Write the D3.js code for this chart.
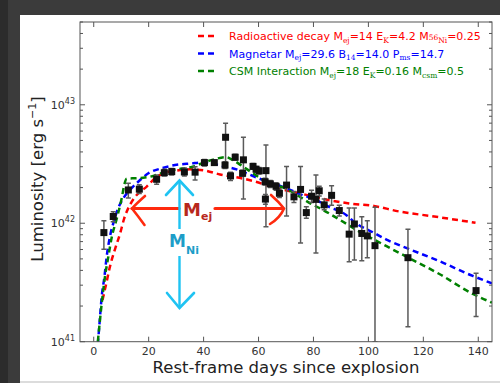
<!DOCTYPE html>
<html>
<head>
<meta charset="utf-8">
<script src="https://cdn.jsdelivr.net/npm/d3@7"></script>
<style>
  html, body { margin: 0; padding: 0; background: #3a3a3a; }
  svg { display: block; }
  text { font-family: "DejaVu Sans", sans-serif; }
</style>
</head>
<body>
<svg id="chart" width="500" height="383"></svg>
<script>
// Observed bolometric light curve, luminosity in units of 1e42 erg/s
const obsDays = [3.7, 7.1, 12.6, 16.6, 22.9, 25.7, 28.4, 33.0, 36.9, 40.3, 43.9, 48.0, 47.8, 49.8, 51.5,
  54.5, 54.2, 58.0, 59.1, 60.2, 62.7, 62.4, 62.5, 64.3, 66.4, 67.6, 70.2, 72.9, 75.3, 77.4, 79.3, 80.9,
  82.1, 83.9, 86.6, 89.4, 93.0, 94.9, 97.6, 99.6, 102.4, 114.4, 139.2];
const obsLum = [0.834, 1.14, 1.91, 1.94, 2.35, 2.67, 2.73, 2.71, 2.70, 3.25, 3.25, 5.32, 3.10, 2.51, 3.61,
  3.43, 2.64, 3.02, 2.86, 2.77, 2.78, 2.24, 1.60, 2.15, 2.05, 1.79, 2.10, 1.67, 1.93, 1.23, 1.69, 1.59,
  1.88, 1.43, 1.72, 1.28, 0.809, 0.986, 0.820, 0.782, 0.647, 0.512, 0.270];
const obsLo = [0.603, 1.03, 1.63, 1.78, 2.13, 2.50, 2.55, 2.50, 2.32, 3.05, 3.10, 3.21, 2.90, 2.30, 3.40,
  1.60, 2.50, 2.85, 2.70, 2.60, 0.935, 2.10, 1.45, 2.00, 1.90, 1.65, 1.15, 1.50, 0.68, 1.10, 1.50, 0.56,
  1.70, 1.30, 1.42, 1.15, 0.474, 0.490, 0.483, 0.512, 0.0, 0.134, 0.163];
const obsHi = [1.052, 1.25, 2.18, 2.11, 2.56, 2.85, 2.90, 2.92, 3.00, 3.45, 3.40, 6.98, 3.30, 2.70, 3.82,
  5.32, 2.80, 3.20, 3.02, 2.95, 4.58, 2.40, 1.75, 2.30, 2.20, 1.95, 3.01, 1.85, 3.01, 1.38, 1.90, 2.56,
  2.05, 1.60, 2.07, 1.42, 1.346, 1.346, 1.137, 1.052, 1.365, 0.889, 0.378];

// Model light curves (same units)
const radioDays = [3.2, 4.7, 5.9, 7.7, 9.6, 11.1, 13.2, 16.2, 19.3, 22.3, 25.3, 30, 35, 40, 46, 53, 59, 65,
  75, 85, 93, 102, 111, 124, 139];
const radioLum = [0.225, 0.32, 0.43, 0.60, 0.82, 1.10, 1.43, 1.79, 2.04, 2.40, 2.64, 2.78, 2.85, 2.80, 2.58,
  2.42, 2.24, 2.02, 1.79, 1.58, 1.47, 1.40, 1.26, 1.14, 1.01];

const magDays = [1.5, 2.3, 2.9, 3.9, 4.7, 5.9, 7.5, 8.9, 10.8, 13.2, 16.2, 19.9, 24.7, 29.6, 35.7, 39, 44,
  48, 52, 56, 59.5, 63, 66, 70, 76, 81, 85, 92, 95, 102, 107, 114, 126, 138, 145];
const magLum = [0.095, 0.163, 0.24, 0.354, 0.52, 0.77, 1.07, 1.34, 1.63, 1.91, 2.24, 2.64, 2.91, 3.10, 3.20,
  3.25, 3.15, 3.0, 2.85, 2.62, 2.42, 2.26, 2.15, 1.98, 1.73, 1.57, 1.40, 1.17, 1.02, 0.83, 0.72, 0.616,
  0.477, 0.359, 0.311];

const csmDays = [1.5, 2.9, 4.1, 5.3, 6.5, 8.4, 10.2, 11.2, 12.0, 15, 18, 22, 25, 29, 36, 41, 44, 48, 50.8,
  54.4, 58, 61.7, 66, 69.6, 74, 78.7, 83.6, 89.6, 95.7, 101.2, 106.6, 114, 126, 138, 145];
const csmLum = [0.1, 0.21, 0.354, 0.52, 0.75, 1.10, 1.63, 2.15, 2.38, 2.40, 2.42, 2.52, 2.67, 2.82, 3.0,
  3.31, 3.47, 3.62, 3.40, 3.0, 2.64, 2.32, 2.10, 1.98, 1.73, 1.48, 1.29, 1.07, 0.877, 0.746, 0.64, 0.52,
  0.371, 0.253, 0.214];

const xTicks = [0, 20, 40, 60, 80, 100, 120, 140];
const yTicks = [0.1, 1, 10];
const yTickExp = ["41", "42", "43"];

const colRed = "#ff0000", colBlue = "#0000ff", colGreen = "#008000";

const svg = d3.select("#chart");

// window frame and figure background
svg.append("rect").attr("x", 0).attr("y", 0).attr("width", 500).attr("height", 383).attr("fill", "#3b3b3b");
svg.append("rect").attr("x", 0).attr("y", 0).attr("width", 8).attr("height", 383).attr("fill", "#2c2c2c");
svg.append("rect").attr("x", 20).attr("y", 15).attr("width", 480).attr("height", 366).attr("fill", "#ffffff");
svg.append("rect").attr("x", 20).attr("y", 381).attr("width", 480).attr("height", 2).attr("fill", "#dcdcdc");

const L = 80, R = 492, T = 22, B = 341.7;
const x = d3.scaleLinear().domain([-5, 145]).range([L, R]);
const y = d3.scaleLog().domain([0.1, 50]).range([B, T]);

svg.append("clipPath").attr("id", "plotclip")
  .append("rect").attr("x", L).attr("y", T).attr("width", R - L).attr("height", B - T);

const plot = svg.append("g").attr("clip-path", "url(#plotclip)");

// model curves
const models = [
  { d: radioDays, v: radioLum, c: colRed },
  { d: magDays, v: magLum, c: colBlue },
  { d: csmDays, v: csmLum, c: colGreen }
];
const line = d3.line().x(p => x(p[0])).y(p => y(p[1])).curve(d3.curveMonotoneX);
models.forEach(m => {
  plot.append("path")
    .attr("d", line(m.d.map((dd, i) => [dd, m.v[i]])))
    .attr("fill", "none")
    .attr("stroke", m.c)
    .attr("stroke-width", 2.5)
    .attr("stroke-dasharray", "6,4");
});

// annotations: ejecta mass (horizontal) and nickel mass (vertical)
const ann = svg.append("g");
const red = "#ff2a0e", cyan = "#1fc3f2";
ann.append("path").attr("d", "M132,208.5 L179,208.5 M215,208.5 L283,208.5")
  .attr("stroke", red).attr("stroke-width", 3.2).attr("fill", "none").attr("stroke-linecap", "round");
ann.append("path").attr("d", "M145,196 Q137,203 132,208.5 Q138,216 144.5,225")
  .attr("stroke", red).attr("stroke-width", 2.6).attr("fill", "none").attr("stroke-linecap", "round");
ann.append("path").attr("d", "M271,195 Q279,202 284,208.5 Q280,218 270,224")
  .attr("stroke", red).attr("stroke-width", 2.6).attr("fill", "none").attr("stroke-linecap", "round");

ann.append("path").attr("d", "M179.5,181 L179.5,229 M179.5,256 L179.5,307")
  .attr("stroke", cyan).attr("stroke-width", 2.4).attr("fill", "none");
ann.append("path").attr("d", "M166,195 L179.5,180.5 L193,195 M167,293 L179.5,308 L194,293")
  .attr("stroke", cyan).attr("stroke-width", 2.6).attr("fill", "none").attr("stroke-linecap", "round");

const mej = ann.append("text").attr("x", 183).attr("y", 216).attr("fill", "#b8281c")
  .attr("font-weight", "bold").attr("font-size", 18);
mej.append("tspan").text("M");
mej.append("tspan").attr("font-size", 11).attr("dy", 4).text("ej");

const mni = ann.append("text").attr("x", 169).attr("y", 246.7).attr("fill", "#1d9dc8")
  .attr("font-weight", "bold").attr("font-size", 17);
mni.append("tspan").text("M");
mni.append("tspan").attr("font-size", 11).attr("dy", 7).text("Ni");

// data with error bars
const pts = obsDays.map((d, i) => ({ d, v: obsLum[i], lo: Math.max(obsLo[i], 0.1), hi: obsHi[i] }));
const eb = plot.append("g").attr("stroke", "#5a5a5a").attr("stroke-width", 1.5);
pts.forEach(p => {
  const cx = x(p.d);
  eb.append("line").attr("x1", cx).attr("x2", cx).attr("y1", y(p.lo)).attr("y2", y(p.hi));
  eb.append("line").attr("x1", cx - 2.5).attr("x2", cx + 2.5).attr("y1", y(p.lo)).attr("y2", y(p.lo));
  eb.append("line").attr("x1", cx - 2.5).attr("x2", cx + 2.5).attr("y1", y(p.hi)).attr("y2", y(p.hi));
});
plot.append("g").selectAll("rect").data(pts).join("rect")
  .attr("x", p => x(p.d) - 3.5).attr("y", p => y(p.v) - 3.5)
  .attr("width", 7).attr("height", 7).attr("fill", "#111");

// axes frame and ticks (inward, on all sides)
const axisCol = "#555";
svg.append("rect").attr("x", L).attr("y", T).attr("width", R - L).attr("height", B - T)
  .attr("fill", "none").attr("stroke", axisCol).attr("stroke-width", 1);

const tk = svg.append("g").attr("stroke", axisCol).attr("stroke-width", 1);
xTicks.forEach(t => {
  const px = x(t);
  tk.append("line").attr("x1", px).attr("x2", px).attr("y1", B).attr("y2", B - 5);
  tk.append("line").attr("x1", px).attr("x2", px).attr("y1", T).attr("y2", T + 5);
});
const minor = [];
[0.1, 1, 10].forEach(base => { for (let k = 2; k <= 9; k++) { const v = base * k; if (v <= 50) minor.push(v); } });
yTicks.forEach(v => {
  const py = y(v);
  tk.append("line").attr("x1", L).attr("x2", L + 5).attr("y1", py).attr("y2", py);
  tk.append("line").attr("x1", R).attr("x2", R - 5).attr("y1", py).attr("y2", py);
});
minor.forEach(v => {
  const py = y(v);
  tk.append("line").attr("x1", L).attr("x2", L + 3).attr("y1", py).attr("y2", py);
  tk.append("line").attr("x1", R).attr("x2", R - 3).attr("y1", py).attr("y2", py);
});

// tick labels
svg.append("g").selectAll("text").data(xTicks).join("text")
  .attr("x", d => x(d)).attr("y", 354.5).attr("text-anchor", "middle")
  .attr("font-size", 11).attr("fill", "#333").text(d => d);

yTicks.forEach((v, i) => {
  const t = svg.append("text").attr("x", 75).attr("y", y(v) + 4).attr("text-anchor", "end")
    .attr("font-size", 11).attr("fill", "#333");
  t.append("tspan").text("10");
  t.append("tspan").attr("font-size", 8).attr("dy", -5).text(yTickExp[i]);
});

// axis titles
svg.append("text").attr("x", (L + R) / 2).attr("y", 373).attr("text-anchor", "middle")
  .attr("font-size", 16.5).attr("fill", "#222").text("Rest-frame days since explosion");
const yt = svg.append("text").attr("transform", "translate(43,179) rotate(-90)")
  .attr("text-anchor", "middle").attr("font-size", 16.5).attr("fill", "#222");
yt.append("tspan").text("Luminosity [erg s");
yt.append("tspan").attr("font-size", 11).attr("dy", -7).text("\u22121");
yt.append("tspan").attr("dy", 7).text("]");

// legend
const legendRows = [
  { c: colRed, parts: [["Radioactive decay M"], ["ej", 1], ["=14 E"], ["K", 1], ["=4.2 M"], ["56", 2], ["Ni", 1], ["=0.25"]] },
  { c: colBlue, parts: [["Magnetar M"], ["ej", 1], ["=29.6 B"], ["14", 1], ["=14.0 P"], ["ms", 1], ["=14.7"]] },
  { c: colGreen, parts: [["CSM Interaction M"], ["ej", 1], ["=18 E"], ["K", 1], ["=0.16 M"], ["csm", 1], ["=0.5"]] }
];
legendRows.forEach((row, i) => {
  const cy = 36 + i * 17.5;
  svg.append("line").attr("x1", 198).attr("x2", 215).attr("y1", cy).attr("y2", cy)
    .attr("stroke", row.c).attr("stroke-width", 2.5).attr("stroke-dasharray", "6,4");
  const t = svg.append("text").attr("x", 229).attr("y", cy + 4).attr("font-size", 11).attr("fill", row.c);
  let shift = 0;
  row.parts.forEach(p => {
    const kind = p[1] || 0;
    const target = kind === 1 ? 2.5 : 0;
    const s = t.append("tspan").attr("dy", target - shift).text(p[0]);
    if (kind) s.attr("font-size", 7.5).attr("font-family", "DejaVu Serif, serif");
    shift = target;
  });
});
</script>
</body>
</html>
